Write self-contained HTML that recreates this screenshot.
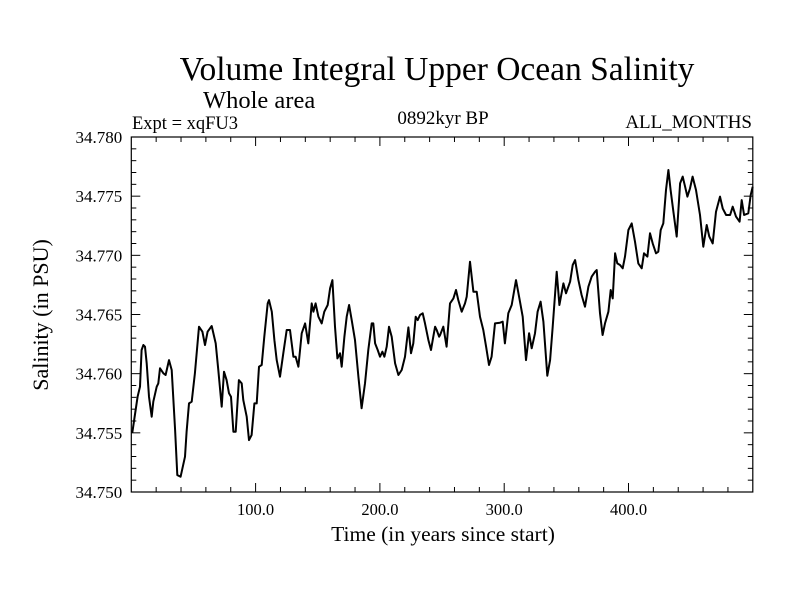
<!DOCTYPE html>
<html><head><meta charset="utf-8"><style>
html,body{margin:0;padding:0;background:#fff;}
svg{display:block;font-family:"Liberation Serif",serif;}
</style></head><body>
<svg id="chart" width="800" height="600" xmlns="http://www.w3.org/2000/svg">
<text x="437" y="80" font-size="33.5" text-anchor="middle">Volume Integral Upper Ocean Salinity</text>
<text x="203" y="108" font-size="24.5">Whole area</text>
<text x="132" y="129" font-size="18.5">Expt = xqFU3</text>
<text x="443" y="124" font-size="19" text-anchor="middle">0892kyr BP</text>
<text x="752" y="128" font-size="19" text-anchor="end">ALL_MONTHS</text>
<text x="443" y="541" font-size="21.5" text-anchor="middle">Time (in years since start)</text>
<text x="0" y="0" font-size="22" text-anchor="middle" transform="translate(48,315) rotate(-90)">Salinity (in PSU)</text>
<g id="axes"></g>
<g id="series"></g>
</svg>
<script>
const years=[0.8,5.1,7.0,8.3,9.7,11.0,12.4,14.2,16.4,17.7,20.4,21.7,23.1,25.8,27.6,30.3,32.5,35.2,37.0,39.7,43.2,44.5,46.4,48.6,51.2,54.5,57.2,59.3,61.4,64.7,67.9,70.0,72.7,74.6,76.7,78.6,80.2,82.1,84.0,86.6,88.8,90.1,92.8,94.7,96.8,99.0,100.9,102.7,104.9,107.0,109.7,110.8,113.0,115.1,117.0,119.6,122.3,125.0,127.7,130.4,132.2,134.4,137.1,139.8,142.4,145.1,146.5,148.3,150.5,153.2,155.3,158.0,159.9,161.8,163.9,165.8,167.9,169.3,171.4,173.3,175.2,177.3,180.0,182.7,185.3,188.0,190.7,193.4,194.7,196.1,198.2,200.1,202.0,203.6,205.5,207.3,209.5,212.2,214.9,217.5,220.2,222.9,225.0,226.9,228.8,230.4,232.3,234.4,236.3,239.0,241.1,243.0,244.4,245.7,247.6,
248.4,251.0,253.7,256.4,259.1,261.2,263.1,265.8,268.5,269.8,272.5,275.2,277.9,280.5,283.2,285.4,287.8,289.9,292.6,296.6,298.8,300.6,303.3,306.0,309.5,312.2,314.9,317.5,320.0,322.1,324.8,326.9,329.3,331.5,334.7,336.9,339.0,342.2,344.4,347.6,349.7,353.0,355.1,357.0,359.7,362.3,365.0,367.7,370.4,373.1,374.4,377.1,379.2,381.1,383.8,385.7,387.3,389.2,391.0,393.2,395.3,397.2,399.9,402.6,405.2,407.9,410.6,412.5,415.2,417.3,419.5,422.1,424.0,425.9,428.0,430.2,432.1,433.9,436.1,438.8,441.5,443.6,445.5,447.4,449.5,451.6,454.3,457.5,460.2,462.9,465.0,467.7,470.4,473.6,475.8,478.5,481.7,483.8,486.5,489.4,491.1,493.0,496.4,498.3,499.9];
const salinity=[34.75501,34.75805,34.75890,34.76200,34.76242,34.76228,34.76087,34.75805,34.75636,34.75763,34.75890,34.75918,34.76045,34.76003,34.75989,34.76115,34.76031,34.75524,34.75143,34.75129,34.75298,34.75510,34.75749,34.75763,34.76003,34.76397,34.76355,34.76242,34.76355,34.76403,34.76256,34.76031,34.75721,34.76017,34.75946,34.75834,34.75805,34.75510,34.75510,34.75946,34.75918,34.75777,34.75636,34.75439,34.75481,34.75749,34.75749,34.76059,34.76073,34.76312,34.76594,34.76622,34.76524,34.76284,34.76115,34.75974,34.76172,34.76369,34.76369,34.76143,34.76143,34.76059,34.76341,34.76425,34.76256,34.76594,34.76524,34.76594,34.76481,34.76425,34.76524,34.76580,34.76721,34.76791,34.76397,34.76129,34.76172,34.76059,34.76312,34.76481,34.76580,34.76453,34.76284,34.75974,34.75707,34.75918,34.76200,34.76425,34.76425,34.76256,34.76200,34.76143,34.76186,34.76143,34.76228,34.76397,34.76312,34.76087,34.75989,34.76031,34.76143,34.76391,34.76172,34.76256,34.76481,34.76453,34.76496,34.76510,34.76425,34.76284,34.76200,34.76312,34.76397,34.76369,34.76312,
34.76327,34.76397,34.76228,34.76594,34.76636,34.76707,34.76622,34.76524,34.76594,34.76650,34.76946,34.76693,34.76693,34.76481,34.76369,34.76228,34.76073,34.76143,34.76425,34.76431,34.76439,34.76256,34.76510,34.76580,34.76791,34.76636,34.76481,34.76115,34.76341,34.76214,34.76341,34.76524,34.76608,34.76439,34.75983,34.76115,34.76397,34.76862,34.76580,34.76763,34.76679,34.76777,34.76918,34.76960,34.76791,34.76665,34.76566,34.76735,34.76820,34.76862,34.76876,34.76510,34.76327,34.76425,34.76524,34.76707,34.76636,34.77017,34.76932,34.76918,34.76890,34.76989,34.77214,34.77270,34.77115,34.76932,34.76890,34.77017,34.76989,34.77186,34.77101,34.77017,34.77031,34.77214,34.77270,34.77552,34.77721,34.77552,34.77369,34.77158,34.77608,34.77665,34.77580,34.77496,34.77566,34.77665,34.77552,34.77341,34.77073,34.77256,34.77158,34.77101,34.77369,34.77496,34.77397,34.77341,34.77341,34.77411,34.77327,34.77284,34.77467,34.77341,34.77355,34.77510,34.77580];
const xTicks=[100,200,300,400];
const xTickLabels=["100.0","200.0","300.0","400.0"];
const yTicks=[34.750,34.755,34.760,34.765,34.770,34.775,34.780];
const yTickLabels=["34.750","34.755","34.760","34.765","34.770","34.775","34.780"];

const L=131.3,R=752.8,T=137,B=492;
const xMin=0,xMax=500,yMin=34.750,yMax=34.780;
const sx=v=>L+(v-xMin)/(xMax-xMin)*(R-L);
const sy=v=>B-(v-yMin)/(yMax-yMin)*(B-T);
const NS="http://www.w3.org/2000/svg";
const axes=document.getElementById('axes');
const mk=(tag,attrs,parent)=>{const e=document.createElementNS(NS,tag);for(const k in attrs)e.setAttribute(k,attrs[k]);parent.appendChild(e);return e;};

const frame=mk('rect',{x:L,y:T,width:R-L,height:B-T,fill:'none',stroke:'#000','stroke-width':1.2},axes);



for(let v=20;v<xMax;v+=20){
  const major=v%100===0,len=major?9:5,x=sx(v);
  const t1=mk('line',{x1:x,x2:x,y1:B,y2:B-len,stroke:'#000','stroke-width':1},axes);
  
  
  const t2=mk('line',{x1:x,x2:x,y1:T,y2:T+len,stroke:'#000','stroke-width':1},axes);
  
  
}
xTicks.forEach((v,i)=>{
  const t=mk('text',{x:sx(v),y:B+23,'font-size':16.5,'text-anchor':'middle'},axes);
  t.textContent=xTickLabels[i];
  
  
});
for(let k=1;k<30;k++){
  const v=yMin+k*0.001,major=k%5===0,len=major?9:5,y=sy(v);
  const t1=mk('line',{x1:L,x2:L+len,y1:y,y2:y,stroke:'#000','stroke-width':1},axes);
  
  
  const t2=mk('line',{x1:R,x2:R-len,y1:y,y2:y,stroke:'#000','stroke-width':1},axes);
  
  
}
yTicks.forEach((v,i)=>{
  const t=mk('text',{x:L-9,y:sy(v)+6,'font-size':17,'text-anchor':'end'},axes);
  t.textContent=yTickLabels[i];
  
  
});
const d=years.map((yr,i)=>(i?'L':'M')+sx(yr).toFixed(1)+' '+sy(salinity[i]).toFixed(1)).join(' ');
const line=mk('path',{d:d,fill:'none',stroke:'#000','stroke-width':2,'stroke-linejoin':'round'},document.getElementById('series'));


</script>
</body></html>
